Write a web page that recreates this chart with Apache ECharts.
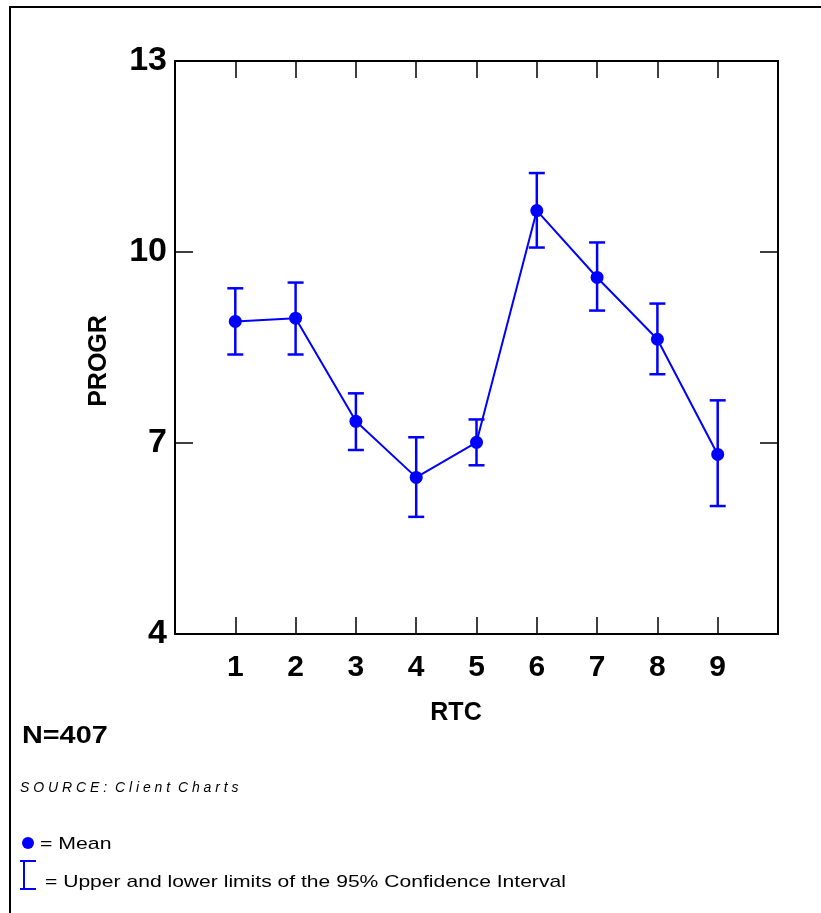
<!DOCTYPE html>
<html>
<head>
<meta charset="utf-8">
<title>PROGR by RTC</title>
<script src="https://cdn.jsdelivr.net/npm/echarts@6/dist/echarts.min.js"></script>
<style>
  html, body { margin: 0; padding: 0; background: #fff; }
  #container { width: 821px; height: 913px; }
</style>
</head>
<body>
<div id="container"></div>
<script>
  // RTC groups 1..9
  var categories = [1, 2, 3, 4, 5, 6, 7, 8, 9];
  var means = [8.91, 8.96, 7.34, 6.46, 7.01, 10.65, 9.60, 8.63, 6.82];
  var upper = [9.43, 9.52, 7.78, 7.09, 7.37, 11.24, 10.15, 9.19, 7.67];
  var lower = [8.39, 8.39, 6.89, 5.84, 6.65, 10.07, 9.08, 8.08, 6.01];
  var yTicks = [4, 7, 10, 13];

  var blue = '#0000ff';
  var dom = document.getElementById('container');
  var myChart = echarts.init(dom);

  var meanData = [];
  var ciData = [];
  categories.forEach(function (c, i) {
    meanData.push([c, means[i]]);
    ciData.push([c, lower[i], upper[i]]);
  });

  function renderCI(params, api) {
    var x = api.value(0);
    var lo = api.coord([x, api.value(1)]);
    var hi = api.coord([x, api.value(2)]);
    var w = 8;
    var style = {stroke: blue, lineWidth: 2.5};
    return {
      type: 'group',
      children: [
        {type: 'line', shape: {x1: lo[0], y1: lo[1], x2: hi[0], y2: hi[1]}, style: style},
        {type: 'line', shape: {x1: hi[0] - w, y1: hi[1], x2: hi[0] + w, y2: hi[1]}, style: style},
        {type: 'line', shape: {x1: lo[0] - w, y1: lo[1], x2: lo[0] + w, y2: lo[1]}, style: style}
      ]
    };
  }

  var axisLine = {show: true, onZero: false, lineStyle: {color: '#000', width: 2}};
  var tickStyle = {show: true, inside: true, length: 17, lineStyle: {color: '#000', width: 1.5}};
  var yTickStyle = {show: true, inside: true, length: 18, lineStyle: {color: '#000', width: 1.5}};

  var option = {
    animation: false,
    grid: {left: 175, top: 61, width: 603, height: 573, containLabel: false},
    xAxis: [{
      type: 'value',
      min: 0, max: 10, interval: 1,
      position: 'bottom',
      axisLine: axisLine,
      axisTick: tickStyle,
      splitLine: {show: false},
      axisLabel: {
        margin: 19,
        fontFamily: 'Liberation Sans', fontSize: 30, fontWeight: 'bold', color: '#000',
        formatter: function (v) { return categories.indexOf(v) >= 0 ? String(v) : ''; }
      }
    }, {
      type: 'value',
      min: 0, max: 10, interval: 1,
      position: 'top',
      axisLine: axisLine,
      axisTick: tickStyle,
      splitLine: {show: false},
      axisLabel: {show: false}
    }],
    yAxis: [{
      type: 'value',
      min: 4, max: 13, interval: 3,
      position: 'left',
      axisLine: axisLine,
      axisTick: yTickStyle,
      splitLine: {show: false},
      axisLabel: {
        margin: 8,
        fontFamily: 'Liberation Sans', fontSize: 34, fontWeight: 'bold', color: '#000',
        formatter: function (v) { return yTicks.indexOf(v) >= 0 ? String(v) : ''; }
      }
    }, {
      type: 'value',
      min: 4, max: 13, interval: 3,
      position: 'right',
      axisLine: axisLine,
      axisTick: yTickStyle,
      splitLine: {show: false},
      axisLabel: {show: false}
    }],
    series: [{
      name: 'CI',
      type: 'custom',
      renderItem: renderCI,
      data: ciData,
      z: 2
    }, {
      name: 'Mean',
      type: 'line',
      data: meanData,
      symbol: 'circle',
      symbolSize: 13,
      lineStyle: {color: blue, width: 2},
      itemStyle: {color: blue},
      z: 3
    }],
    graphic: [
      // outer frame
      {type: 'rect', shape: {x: 10, y: 7, width: 840, height: 940}, style: {fill: null, stroke: '#000', lineWidth: 2}, silent: true},
      // axis names
      {type: 'text', x: 99, y: 361, rotation: Math.PI / 2,
        style: {text: 'PROGR', font: 'bold 25px "Liberation Sans"', fill: '#000', align: 'center', verticalAlign: 'middle'}},
      {type: 'text', x: 456, y: 713,
        style: {text: 'RTC', font: 'bold 25px "Liberation Sans"', fill: '#000', align: 'center', verticalAlign: 'middle'}},
      // notes
      {type: 'text', x: 22, y: 736, scaleX: 1.2,
        style: {text: 'N=407', font: 'bold 24px "Liberation Sans"', fill: '#000', verticalAlign: 'middle'}},
      {type: 'text', x: 20, y: 788,
        style: {text: 'S O U R C E :  C l i e n t  C h a r t s', font: 'italic 14px "Liberation Sans"', fill: '#000', verticalAlign: 'middle'}},
      // key
      {type: 'circle', shape: {cx: 28, cy: 843, r: 6}, style: {fill: blue}},
      {type: 'text', x: 40, y: 844, scaleX: 1.25,
        style: {text: '= Mean', font: '17px "Liberation Sans"', fill: '#000', verticalAlign: 'middle'}},
      {type: 'polyline', shape: {points: [[20, 861], [36, 861]]}, style: {stroke: blue, lineWidth: 2}},
      {type: 'polyline', shape: {points: [[24, 861], [24, 889]]}, style: {stroke: blue, lineWidth: 2}},
      {type: 'polyline', shape: {points: [[20, 889], [36, 889]]}, style: {stroke: blue, lineWidth: 2}},
      {type: 'text', x: 45, y: 882, scaleX: 1.24,
        style: {text: '= Upper and lower limits of the 95% Confidence Interval', font: '17px "Liberation Sans"', fill: '#000', verticalAlign: 'middle'}}
    ]
  };

  myChart.setOption(option, true);
</script>
</body>
</html>
